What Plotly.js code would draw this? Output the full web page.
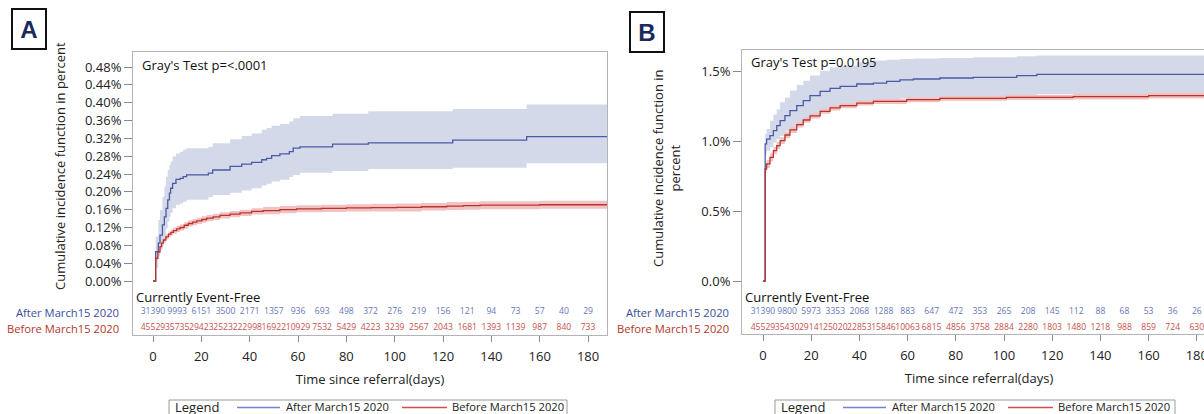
<!DOCTYPE html>
<html><head><meta charset="utf-8">
<script src="https://cdn.plot.ly/plotly-3.0.1.min.js"></script>
<style>html,body{margin:0;padding:0;overflow:hidden;background:#fff}#chart{width:1230px;height:414px}</style>
</head><body><div id="chart"></div>
<script>
// ---------------- data ----------------
const riskDays = [0,10,20,30,40,50,60,70,80,90,100,110,120,130,140,150,160,170,180];
const xTickVals = [0,20,40,60,80,100,120,140,160,180];
const seriesNames = ["After March15 2020","Before March15 2020"];

// Panel A
const aTickVals = [0,0.04,0.08,0.12,0.16,0.20,0.24,0.28,0.32,0.36,0.40,0.44,0.48];
const aTickText = ["0.00%","0.04%","0.08%","0.12%","0.16%","0.20%","0.24%","0.28%","0.32%","0.36%","0.40%","0.44%","0.48%"];
const aAfterDays = [0,1.1,2.2,2.9,3.9,4.7,5.4,6.1,6.8,7.3,8.1,9.5,11.2,12.5,13.9,22.9,24.7,31.9,36.7,40.8,45,47,49.1,52.5,56.4,58,60.8,74.3,89.1,124,154.6,188];
const aAfterCif  = [0,0.066,0.085,0.103,0.126,0.144,0.163,0.182,0.197,0.208,0.219,0.228,0.230,0.234,0.238,0.242,0.249,0.257,0.262,0.266,0.272,0.275,0.281,0.285,0.290,0.298,0.301,0.307,0.310,0.316,0.324,0.324];
const aAfterHi   = [0,0.100,0.137,0.159,0.189,0.212,0.234,0.249,0.260,0.268,0.279,0.286,0.290,0.295,0.298,0.301,0.309,0.318,0.325,0.331,0.339,0.343,0.348,0.352,0.358,0.365,0.370,0.375,0.381,0.386,0.396,0.396];
const aAfterLo   = [0,0.030,0.055,0.070,0.085,0.099,0.118,0.133,0.144,0.153,0.163,0.171,0.174,0.178,0.182,0.188,0.193,0.198,0.203,0.208,0.214,0.218,0.223,0.227,0.233,0.238,0.243,0.247,0.251,0.254,0.264,0.264];
const aBeforeDays = [0,1.1,2,2.9,3.6,4.3,5.3,6.4,7.4,8.4,9.8,11.2,12.9,14.6,16.4,18.1,20.2,22.2,24.9,27.7,31.8,36,40.8,45.6,52.5,59.4,69.7,80,90.4,100.8,111.1,121.5,128.4,135.3,160,188];
const aBeforeCif  = [0,0.051,0.065,0.077,0.085,0.092,0.099,0.105,0.109,0.113,0.117,0.120,0.125,0.129,0.132,0.135,0.138,0.141,0.144,0.147,0.150,0.153,0.156,0.158,0.160,0.162,0.163,0.164,0.1645,0.165,0.1665,0.168,0.169,0.170,0.171,0.171];
const aBeforeHi   = [0,0.056,0.071,0.083,0.091,0.098,0.105,0.111,0.116,0.120,0.124,0.127,0.132,0.136,0.139,0.142,0.145,0.148,0.151,0.154,0.157,0.160,0.163,0.166,0.168,0.170,0.171,0.172,0.173,0.174,0.175,0.177,0.178,0.179,0.180,0.180];
const aBeforeLo   = [0,0.046,0.059,0.071,0.079,0.086,0.093,0.099,0.102,0.106,0.110,0.113,0.118,0.122,0.125,0.128,0.131,0.134,0.137,0.140,0.143,0.146,0.149,0.150,0.152,0.154,0.155,0.156,0.156,0.156,0.158,0.159,0.160,0.161,0.162,0.162];
const aAfterRisk  = [31390,9993,6151,3500,2171,1357,936,693,498,372,276,219,156,121,94,73,57,40,29];
const aBeforeRisk = [45529,35735,29423,25232,22998,16922,10929,7532,5429,4223,3239,2567,2043,1681,1393,1139,987,840,733];
const aTestText = "Gray's Test p=<.0001";

// Panel B
const bTickVals = [0,0.5,1.0,1.5];
const bTickText = ["0.0%","0.5%","1.0%","1.5%"];
const bAfterDays = [0,0.9,1.5,2.9,4.3,5.7,7.1,9.1,11.2,14,16.7,19.5,23.7,27.8,32,38.9,45.8,51.3,56.8,62.4,73.4,87.3,105.3,113.6,188];
const bAfterCif  = [0,0.979,1.014,1.038,1.074,1.110,1.145,1.181,1.217,1.252,1.288,1.324,1.355,1.376,1.390,1.407,1.414,1.426,1.436,1.443,1.450,1.455,1.467,1.476,1.476];
const bAfterHi   = [0,1.050,1.086,1.145,1.190,1.225,1.276,1.310,1.360,1.400,1.430,1.467,1.502,1.526,1.540,1.562,1.575,1.581,1.585,1.590,1.593,1.598,1.605,1.610,1.610];
const bAfterLo   = [0,0.907,0.930,0.955,0.990,1.015,1.038,1.070,1.098,1.130,1.150,1.181,1.217,1.240,1.255,1.276,1.288,1.300,1.305,1.310,1.312,1.318,1.329,1.336,1.336];
const bBeforeDays = [0,0.9,1.5,2.9,4.3,5.7,7.1,9.1,11.2,14,16.7,19.5,23.7,27.8,32,38.9,45.8,59.6,73.4,101,128.7,160,188];
const bBeforeCif  = [0,0.800,0.836,0.883,0.931,0.967,1.002,1.043,1.079,1.117,1.150,1.179,1.212,1.236,1.252,1.271,1.283,1.295,1.305,1.312,1.317,1.324,1.324];
const bBeforeHi   = [0,0.828,0.864,0.910,0.957,0.992,1.026,1.066,1.101,1.138,1.170,1.198,1.230,1.254,1.270,1.289,1.301,1.313,1.323,1.331,1.337,1.344,1.344];
const bBeforeLo   = [0,0.772,0.808,0.856,0.905,0.942,0.978,1.020,1.057,1.096,1.130,1.160,1.194,1.218,1.234,1.253,1.265,1.277,1.287,1.293,1.297,1.304,1.304];
const bAfterRisk  = [31390,9800,5973,3353,2068,1288,883,647,472,353,265,208,145,112,88,68,53,36,26];
const bBeforeRisk = [45529,35430,29141,25020,22853,15846,10063,6815,4856,3758,2884,2280,1803,1480,1218,988,859,724,630];
const bTestText = "Gray's Test p=0.0195";

// ---------------- styling ----------------
const W = 1230, H = 414;
const FONT = '"Open Sans", "Noto Sans", sans-serif';
const blueLine = '#4a5aa8', redLine = '#b8342e';
const blueLegend = '#7383c6', redLegend = '#d4514b';
const blueBand = '#d3d9e8', redBand = '#f2c2c2';
const blueRisk = '#6677bb', redRisk = '#c8504a';
const blueLabel = '#3a4d9c', redLabel = '#b3362c';
const px = x => x / W;
const py = y => 1 - y / H;

const panels = [
  {xa:'x', ya:'y', left:133, right:607, top:52, bottom:335, zeroPx:281, topTickPx:67, topTick:0.48, zeroX:153, dayPx:2.417,
   label:'A', labelX:29, labelY:29.5, rowLabelX:121, testX:140, testY:65, legendL:169, legendR:567,
   ytitleX:60, ytitleY:166,
   after:[aAfterDays,aAfterCif,aAfterHi,aAfterLo,aAfterRisk], before:[aBeforeDays,aBeforeCif,aBeforeHi,aBeforeLo,aBeforeRisk],
   ticks:[aTickVals,aTickText], test:aTestText, ytitle:'Cumulative incidence function in percent'},
  {xa:'x2', ya:'y2', left:742, right:1216, top:50, bottom:334, zeroPx:281, topTickPx:71, topTick:1.5, zeroX:763, dayPx:2.41,
   label:'B', labelX:646.5, labelY:31.5, rowLabelX:731, testX:749, testY:62, legendL:775, legendR:1175,
   ytitleX:666, ytitleY:168,
   after:[bAfterDays,bAfterCif,bAfterHi,bAfterLo,bAfterRisk], before:[bBeforeDays,bBeforeCif,bBeforeHi,bBeforeLo,bBeforeRisk],
   ticks:[bTickVals,bTickText], test:bTestText, ytitle:'Cumulative incidence function in<br>percent'}
];

const data = [];
const layout = {
  width: W, height: H, margin:{l:0,r:0,t:0,b:0,autoexpand:false},
  paper_bgcolor:'#fff', plot_bgcolor:'#fff',
  font:{family:FONT, size:13, color:'#222'},
  showlegend:false, annotations:[], shapes:[], hovermode:false
};

panels.forEach((p, i) => {
  const unitPerPx = p.topTick / (p.zeroPx - p.topTickPx);
  const yOf = pix => (p.zeroPx - pix) * unitPerPx;
  const xOf = pix => (pix - p.zeroX) / p.dayPx;
  const sfx = i === 0 ? '' : '2';

  [[p.after, blueBand],[p.before, redBand]].forEach(([s, col]) => {
    data.push({x:s[0], y:s[2], xaxis:p.xa, yaxis:p.ya, mode:'lines', line:{width:0, shape:'hv', color:col}, showlegend:false, hoverinfo:'skip'});
    data.push({x:s[0], y:s[3], xaxis:p.xa, yaxis:p.ya, mode:'lines', line:{width:0, shape:'hv', color:col}, fill:'tonexty', fillcolor:col, showlegend:false, hoverinfo:'skip'});
  });
  [[p.after, blueLine, seriesNames[0]],[p.before, redLine, seriesNames[1]]].forEach(([s, col, name]) => {
    data.push({x:s[0], y:s[1], xaxis:p.xa, yaxis:p.ya, mode:'lines', name:name, line:{width:1.3, shape:'hv', color:col}, showlegend:false});
  });
  [[p.after[4], blueRisk, 312],[p.before[4], redRisk, 328]].forEach(([vals, col, pix]) => {
    data.push({x:riskDays, y:riskDays.map(() => yOf(pix)), xaxis:p.xa, yaxis:p.ya, mode:'text', text:vals.map(String),
      textposition:'middle center', textfont:{size:8.6, color:col, family:FONT}, showlegend:false, cliponaxis:false, hoverinfo:'skip'});
  });

  layout['xaxis'+sfx] = {
    domain:[px(p.left), px(p.right)], range:[xOf(p.left), xOf(p.right)], anchor:'y'+sfx,
    tickmode:'array', tickvals:xTickVals, ticks:'outside', ticklen:6, tickcolor:'#8a8a8a', tickwidth:1,
    ticklabelstandoff:3,
    showline:true, linecolor:'#b4b4b4', linewidth:1, mirror:true, showgrid:false, zeroline:false,
    tickfont:{size:13, color:'#222'},
    title:{text:'Time since referral(days)', font:{size:13, color:'#222'}, standoff:11}
  };
  layout['yaxis'+sfx] = {
    domain:[py(p.bottom), py(p.top)], range:[yOf(p.bottom), yOf(p.top)], anchor:'x'+sfx,
    tickmode:'array', tickvals:p.ticks[0], ticktext:p.ticks[1], ticks:'outside', ticklen:8, tickcolor:'#8a8a8a', tickwidth:1,
    showline:true, linecolor:'#b4b4b4', linewidth:1, mirror:true, showgrid:false, zeroline:false,
    tickfont:{size:13, color:'#222'}
  };

  // y axis title, centred on the curve area as in the reference
  layout.annotations.push({xref:'paper', yref:'paper', x:px(p.ytitleX), y:py(p.ytitleY), xanchor:'center', yanchor:'middle',
    showarrow:false, textangle:-90, text:p.ytitle, font:{size:13, color:'#222'}});

  // legend box under each panel
  const L = p.legendL, legY = 406.5;
  layout.shapes.push(
    {type:'rect', xref:'paper', yref:'paper', x0:px(L), x1:px(p.legendR), y0:py(400), y1:py(430), line:{color:'#9a9a9a', width:1}, fillcolor:'rgba(0,0,0,0)'},
    {type:'line', xref:'paper', yref:'paper', x0:px(L+68), x1:px(L+111), y0:py(legY+1), y1:py(legY+1), line:{color:blueLegend, width:1.3}},
    {type:'line', xref:'paper', yref:'paper', x0:px(L+233), x1:px(L+278), y0:py(legY+1), y1:py(legY+1), line:{color:redLegend, width:1.3}}
  );
  layout.annotations.push(
    {xref:'paper', yref:'paper', x:px(L+5), y:py(legY), xanchor:'left', yanchor:'middle', showarrow:false, borderpad:0, text:'Legend', font:{size:13, color:'#222'}},
    {xref:'paper', yref:'paper', x:px(L+116), y:py(legY), xanchor:'left', yanchor:'middle', showarrow:false, borderpad:0, text:seriesNames[0], font:{size:11.2, color:'#222'}},
    {xref:'paper', yref:'paper', x:px(L+282), y:py(legY), xanchor:'left', yanchor:'middle', showarrow:false, borderpad:0, text:seriesNames[1], font:{size:11.2, color:'#222'}}
  );

  layout.annotations.push(
    {xref:'paper', yref:'paper', x:px(p.labelX), y:py(p.labelY), xanchor:'center', yanchor:'middle', showarrow:false,
     text:'<b>'+p.label+'</b>', font:{family:'"Liberation Sans", Arial, sans-serif', size:24, color:'#1b2a5c'},
     bordercolor:'#111', borderwidth:2, borderpad:2, width:28, height:34, bgcolor:'#fff'},
    {xref:'paper', yref:'paper', x:px(p.testX), y:py(p.testY), xanchor:'left', yanchor:'middle', showarrow:false,
     text:p.test, font:{size:13, color:'#111'}},
    {xref:'paper', yref:'paper', x:px(p.left + 1), y:py(297), xanchor:'left', yanchor:'middle', showarrow:false,
     text:'Currently Event-Free', font:{size:13, color:'#111'}},
    {xref:'paper', yref:'paper', x:px(p.rowLabelX), y:py(312), xanchor:'right', yanchor:'middle', showarrow:false,
     text:seriesNames[0], font:{size:11.2, color:blueLabel}},
    {xref:'paper', yref:'paper', x:px(p.rowLabelX), y:py(328), xanchor:'right', yanchor:'middle', showarrow:false,
     text:seriesNames[1], font:{size:11.2, color:redLabel}}
  );
});

Plotly.newPlot('chart', data, layout, {staticPlot:true, displayModeBar:false});
</script>
</body></html>
